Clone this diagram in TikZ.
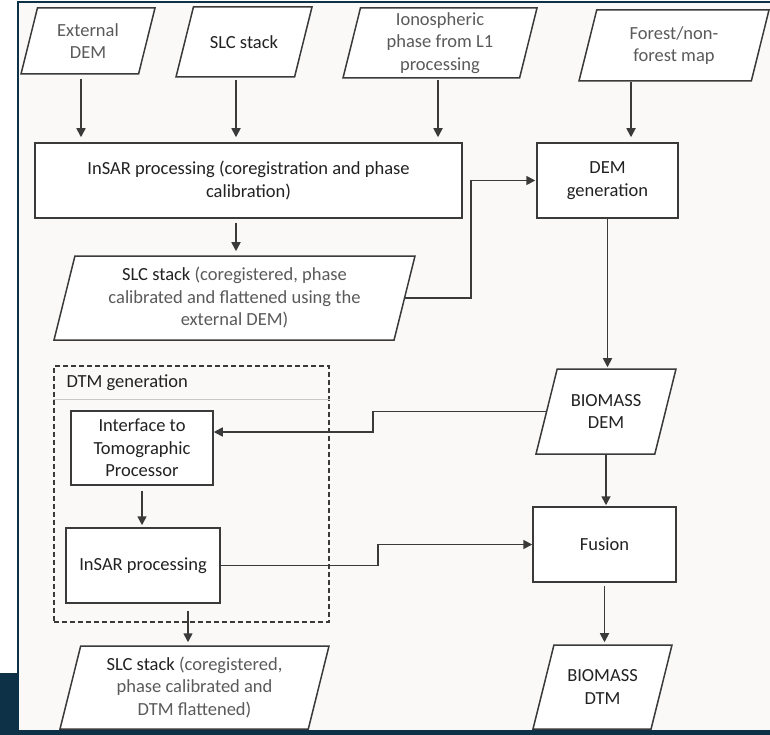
\documentclass[tikz,border=0pt]{standalone}
\usepackage{fontspec}
\setmainfont{Carlito}
\usepackage{tikz}
\usetikzlibrary{shapes.geometric, arrows.meta, positioning}

\definecolor{navy}{HTML}{0D3147}
\definecolor{panel}{HTML}{FAF9F8}
\definecolor{ink}{HTML}{3A3A3A}
\definecolor{greytext}{HTML}{5A5A5A}
\definecolor{darktext}{HTML}{222222}
\definecolor{rulegrey}{HTML}{C8C8C8}

\begin{document}
\begin{tikzpicture}[
    x=1pt, y=-1pt,
    box/.style={rectangle, draw=ink, line width=1.5pt, fill=white, align=center, inner sep=0pt, text=darktext, font=\fontsize{18.5}{22.5}\selectfont},
    data/.style={trapezium, trapezium left angle=76, trapezium right angle=104, trapezium stretches body, draw=ink, line width=1.5pt, fill=white, inner xsep=0pt},
    datatext/.style={align=center, inner sep=0pt, text=greytext, font=\fontsize{18.5}{22.5}\selectfont},
    arrow/.style={-{Triangle[width=9pt, length=9pt]}, line width=1.7pt, draw=ink},
    group/.style={rectangle, draw=ink, dashed, dash pattern=on 5pt off 3pt, line width=1.4pt},
]
    % Page and panel
    \useasboundingbox (0,0) rectangle (770,735);
    \fill[white] (0,0) rectangle (770,735);
    \fill[navy] (0,673) rectangle (19,735);
    \fill[navy] (0,730) rectangle (770,735);
    \fill[panel] (19,3) rectangle (770,730);
    \draw[navy, line width=2pt] (18,730) -- (18,2) -- (770,2);

    % Row 1: inputs
    \node[data, minimum width=134pt, inner ysep=33pt, label={[datatext]center:{External\\DEM}}] (extdem) at (88,41) {};
    \node[data, minimum width=136pt, inner ysep=35pt, label={[datatext, text=darktext]center:{SLC stack}}] (slcin) at (244,42) {};
    \node[data, minimum width=194pt, inner ysep=35pt, label={[datatext]center:{Ionospheric\\phase from L1\\processing}}] (iono) at (440,43) {};
    \node[data, minimum width=190pt, inner ysep=35.5pt, label={[datatext]center:{Forest/non-\\forest map}}] (forest) at (674,45.5) {};

    % Row 2: processing
    \node[box, minimum width=427pt, minimum height=75pt] (insar) at (248.5,180.5) {InSAR processing (coregistration and phase\\calibration)};
    \node[box, minimum width=141pt, minimum height=75pt] (demgen) at (607.5,180.5) {DEM\\generation};
    \node[data, minimum width=361pt, inner ysep=42pt, label={[datatext]center:{\textcolor{darktext}{SLC stack} (coregistered, phase\\calibrated and flattened using the\\external DEM)}}] (slcflat) at (234.5,298) {};
    \node[data, minimum width=140pt, inner ysep=42.5pt, label={[datatext, text=darktext]center:{BIOMASS\\DEM}}] (biodem) at (606,411.5) {};

    % DTM generation group
    \node[group, minimum width=275pt, minimum height=256pt] (dtmbox) at (191.5,494) {};
    \node[anchor=west, inner sep=0pt, text=darktext, font=\fontsize{18.5}{22.5}\selectfont] (dtmhead) at ([xshift=13pt, yshift=-17pt]dtmbox.north west) {DTM generation};
    \draw[rulegrey, line width=1pt] ([yshift=-34pt]dtmbox.north west) -- ([yshift=-34pt]dtmbox.north east);
    \node[box, minimum width=142pt, minimum height=74pt] (iface) at (142,448) {Interface to\\Tomographic\\Processor};
    \node[box, minimum width=154pt, minimum height=75pt] (insar2) at (143,565.5) {InSAR processing};

    % Bottom rows
    \node[box, minimum width=143pt, minimum height=75pt] (fusion) at (604.5,544.5) {Fusion};
    \node[data, minimum width=139pt, inner ysep=42pt, label={[datatext, text=darktext]center:{BIOMASS\\DTM}}] (biodtm) at (602.5,687) {};
    \node[data, minimum width=269pt, inner ysep=41.5pt, label={[datatext]center:{\textcolor{darktext}{SLC stack} (coregistered,\\phase calibrated and\\DTM flattened)}}] (slcdtm) at (194.5,687.5) {};

    % Input arrows
    \draw[arrow, shorten <=4pt, shorten >=5pt] ([xshift=-7pt]extdem.south) -- ([xshift=-7pt]extdem.south |- insar.north);
    \draw[arrow, shorten <=2pt, shorten >=5pt] ([xshift=-8pt]slcin.south) -- ([xshift=-8pt]slcin.south |- insar.north);
    \draw[arrow, shorten <=1pt, shorten >=5pt] ([xshift=-2pt]iono.south) -- ([xshift=-2pt]iono.south |- insar.north);
    \draw[arrow, shorten <=0pt, shorten >=5pt] ([xshift=-43pt]forest.south) -- ([xshift=-43pt]forest.south |- demgen.north);

    % Main flow
    \draw[arrow, shorten <=4pt, shorten >=4pt] ([xshift=-12.5pt]insar.south) -- ([xshift=-12.5pt]insar.south |- slcflat.north);
    \draw[arrow, shorten >=1pt] (slcflat.east) -- ++(66,0) |- (demgen.west);
    \draw[arrow, shorten >=1pt] (demgen.south) -- (demgen.south |- biodem.north);
    \draw[arrow] (biodem.west) -- ++(-173,0) |- ([yshift=16pt]iface.east);
    \draw[arrow, shorten <=5pt, shorten >=2pt] (iface.south) -- (iface.south |- insar2.north);
    \draw[arrow] (insar2.east) -- ++(157,0) |- (fusion.west);
    \draw[arrow, shorten >=1pt] (biodem.south) -- (biodem.south |- fusion.north);
    \draw[arrow, shorten <=3pt, shorten >=2pt] (fusion.south) -- (fusion.south |- biodtm.north);
    \draw[arrow, shorten <=7pt, shorten >=3pt] ([xshift=45pt]insar2.south) -- ([xshift=45pt]insar2.south |- slcdtm.north);
\end{tikzpicture}
\end{document}
